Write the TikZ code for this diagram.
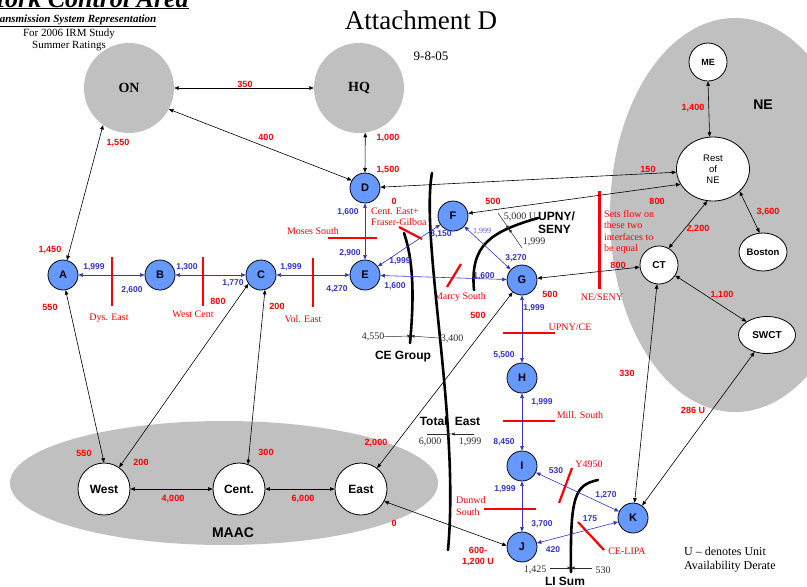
\documentclass[tikz,border=0pt]{standalone}
\usepackage{fontspec}
\setmainfont{Liberation Serif}
\setsansfont{Liberation Sans}
\usetikzlibrary{arrows.meta,shapes.geometric}
\definecolor{nyRed}{RGB}{255,0,0}
\definecolor{nyBlue}{RGB}{51,51,204}
\definecolor{nyBus}{RGB}{102,153,255}
\definecolor{nyGray}{RGB}{192,192,192}
\definecolor{nyInk}{RGB}{45,45,45}
\definecolor{nyPale}{RGB}{90,90,230}
\newcommand\fsz[1]{\fontsize{#1}{#1}\selectfont}

\begin{document}
\begin{tikzpicture}[x=1pt, y=-1pt,
  font=\sffamily,
  area/.style={circle, fill=nyGray, minimum size=90pt, inner sep=0pt, font=\rmfamily\bfseries\fsz{14}},
  bus/.style={circle, draw, line width=0.8pt, fill=nyBus, minimum size=30pt, inner sep=0pt, font=\sffamily\bfseries\fsz{11}},
  pool/.style={ellipse, draw, line width=0.8pt, fill=white, inner sep=0pt, font=\sffamily\bfseries\fsz{9.5}},
  hub/.style={circle, draw, line width=0.8pt, fill=white, minimum size=52pt, inner sep=0pt, font=\sffamily\bfseries\fsz{12}},
  tie/.style={<->, >={Triangle[length=4.5pt,width=3.6pt]}, line width=0.6pt},
  btie/.style={tie, draw=nyBlue},
  rnum/.style={font=\sffamily\bfseries\fsz{9}, text=nyRed, inner sep=0pt},
  bnum/.style={font=\sffamily\bfseries\fsz{8.5}, text=nyBlue, inner sep=0pt},
  iface/.style={draw=nyRed, line width=2.2pt},
  ifname/.style={font=\rmfamily\fsz{10}, text=nyRed, inner sep=0pt},
  seam/.style={line width=2.6pt, line cap=round},
  seamtxt/.style={font=\sffamily\bfseries\fsz{12}, inner sep=0pt},
  flow/.style={font=\rmfamily\fsz{10}, text=nyInk, inner sep=0pt},
  pin/.style={->, >={Triangle[length=3.5pt,width=3pt]}, line width=0.5pt, draw=nyInk}
]
\clip (0,0) rectangle (807,587);

% headings
\node[anchor=base west, inner sep=0pt, font=\rmfamily\bfseries\itshape\fsz{26}] (title) at (-8,7) {\underline{York Control Area}};
\node[anchor=base west, inner sep=0pt, font=\rmfamily\bfseries\itshape\fsz{11}] (subtitle) at (-11,22.5) {\underline{Transmission System Representation}};
\node[anchor=base, inner sep=0pt, font=\rmfamily\fsz{11}] (study) at (69,36.5) {For 2006 IRM Study};
\node[anchor=base, inner sep=0pt, font=\rmfamily\fsz{11}] (ratings) at (69,48) {Summer Ratings};
\node[anchor=base, inner sep=0pt, font=\rmfamily\fsz{27}] (attach) at (421,29) {Attachment D};
\node[anchor=base, inner sep=0pt, font=\rmfamily\fsz{13}] (date) at (431,60) {9-8-05};

% pools
\fill[nyGray] (735,215) ellipse [x radius=125, y radius=197];
\fill[nyGray] (224,483) ellipse [x radius=214, y radius=62];
\node[font=\sffamily\bfseries\fsz{14}] (neName) at (763,105) {NE};
\node[font=\sffamily\bfseries\fsz{14}] (maacName) at (233,533) {MAAC};

% interfaces
\draw[iface] (112,257) -- (112,306);
\node[ifname] (dysEast) at (109,318) {Dys. East};
\draw[iface] (203,257) -- (203,306);
\node[ifname] (westCent) at (193,314) {West Cent};
\draw[iface] (313,258) -- (313,307);
\node[ifname] (volEast) at (303,319) {Vol. East};
\draw[iface] (328,238) -- (377,238);
\node[ifname] (mosesSouth) at (313,231) {Moses South};
\draw[iface] (399,227) -- (422,239);
\node[ifname, anchor=west, align=left, font=\rmfamily\fontsize{10}{11}\selectfont] (centEast) at (371,217) {Cent. East+\\Fraser-Gilboa};
\draw[iface] (447,287) -- (461,264);
\node[ifname] (marcySouth) at (460,297) {Marcy South};
\draw[iface, line width=3pt] (599,191) -- (599,289);
\node[ifname] (neSeny) at (602,297) {NE/SENY};
\node[ifname, anchor=west, align=left, font=\rmfamily\fontsize{10}{11.4}\selectfont] (equalNote) at (604,232) {Sets flow on\\these two\\interfaces to\\be equal};
\draw[iface] (503,333) -- (555,333);
\node[ifname] (upnyCe) at (570,327) {UPNY/CE};
\draw[iface] (503,421) -- (555,421);
\node[ifname] (millSouth) at (580,415) {Mill. South};
\draw[iface] (484,509) -- (536,509);
\node[ifname, anchor=west, align=left, font=\rmfamily\fontsize{10}{12}\selectfont] (dunwdSouth) at (456,506) {Dunwd\\South};
\draw[iface] (559,503) -- (572,468);
\node[ifname] (y4950) at (589,464) {Y4950};
\draw[iface] (578,522) -- (604,550);
\node[ifname] (ceLipa) at (627,551) {CE-LIPA};

% cut sets
\draw[seam] (404,233) .. controls (414,262) and (414,300) .. (410,343);
\draw[seam] (432,173) .. controls (420,240) and (460,420) .. (448,550);
\draw[seam] (474,290) .. controls (470,245) and (490,232) .. (538,218);
\draw[seam] (598,480) .. controls (575,485) and (570,495) .. (571,572);
\node[seamtxt] (ceGroup) at (403,357) {CE Group};
\node[seamtxt] (totalEast) at (450,421) {Total\,\, East};
\node[seamtxt, anchor=west, align=left, font=\sffamily\bfseries\fontsize{12}{13}\selectfont] (upnySeny) at (538,222.5) {UPNY/\\SENY};
\node[seamtxt] (liSum) at (565,581) {LI Sum};

\coordinate (ceX) at (411,336);
\node[flow] (f4550) at (373,337) {4,550};
\node[flow] (f3400) at (452,339) {3,400};
\draw[pin] (f4550) -- (ceX);
\draw[pin] (f3400) -- (ceX);
\coordinate (teL) at (427,434);
\coordinate (teX) at (451,434);
\coordinate (teR) at (474,434);
\node[flow] (f6000) at (430,442) {6,000};
\node[flow] (f1999te) at (470,442) {1,999};
\draw[pin] (teL) -- (teX);
\draw[pin] (teR) -- (teX);
\coordinate (usA) at (498,213);
\coordinate (usX) at (509,229);
\coordinate (usB) at (522,248);
\node[flow] (f5000) at (520,217) {5,000 U};
\node[flow] (f1999us) at (534,242) {1,999};
\draw[pin] (usA) -- (usX);
\draw[pin] (usB) -- (usX);
\coordinate (liL) at (550,568);
\coordinate (liX) at (571,568);
\coordinate (liR) at (592,568);
\node[flow] (f1425) at (535,570) {1,425};
\node[flow] (f530) at (603,570) {530};
\draw[pin] (liL) -- (liX);
\draw[pin] (liR) -- (liX);

% areas and buses
\node[area] (ON) at (129,88) {ON};
\node[area] (HQ) at (359,88) {HQ};
\node[bus] (A) at (63,275) {A};
\node[bus] (B) at (160,275) {B};
\node[bus] (C) at (261,275) {C};
\node[bus] (D) at (365,188) {D};
\node[bus] (E) at (365,275) {E};
\node[bus] (F) at (453,216) {F};
\node[bus] (G) at (522,280) {G};
\node[bus] (H) at (522,378) {H};
\node[bus] (I) at (522,466) {I};
\node[bus] (J) at (522,547) {J};
\node[bus] (K) at (633,518) {K};
\node[hub] (West) at (104,489) {West};
\node[hub] (Cent) at (239,489) {Cent.};
\node[hub] (East) at (361,489) {East};
\node[pool, circle, minimum size=38pt, font=\sffamily\bfseries\fsz{9}] (ME) at (708,62) {ME};
\node[pool, minimum width=73pt, minimum height=64pt, align=center, font=\sffamily\fontsize{9.5}{11}\selectfont] (rest) at (713,169) {Rest\\of\\NE};
\node[pool, circle, minimum size=38pt, font=\sffamily\bfseries\fsz{10}] (CT) at (659,265) {CT};
\node[pool, minimum width=48pt, minimum height=38pt] (boston) at (763,252) {Boston};
\node[pool, minimum width=57pt, minimum height=37pt, font=\sffamily\bfseries\fsz{10}] (swct) at (767,335) {SWCT};

% black ties
\draw[tie] (ON.east) -- (HQ.west);
\draw[tie] (ON.-28) -- (D.150);
\draw[tie] (HQ.-82) -- (D.north);
\draw[tie] (A.75) -- (ON.-125);
\draw[tie] (A.-80) -- (West.north);
\draw[tie] (C.215) -- (West.55);
\draw[tie] (C.-75) -- (Cent.70);
\draw[tie] (West) -- (Cent);
\draw[tie] (Cent) -- (East);
\draw[tie] (East) -- (G);
\draw[tie] (East.-28) -- (J.175);
\draw[tie] (D) -- (rest.185);
\draw[tie] (F.10) -- (rest.205);
\draw[tie] (G) -- (CT);
\draw[tie] (CT) -- (K);
\draw[tie] (swct) -- (K);
\draw[tie] (ME.south) -- (rest.96);
\draw[tie] (rest.-40) -- (boston.100);
\draw[tie] (rest.-100) -- (CT.60);
\draw[tie] (CT) -- (swct);

% blue ties
\draw[btie] (A) -- (B);
\draw[btie] (B) -- (C);
\draw[btie] (C) -- (E);
\draw[btie] (D) -- (E);
\draw[btie] (E) -- (F);
\draw[btie] (E) -- (G);
\draw[btie] (F) -- (G);
\draw[btie] (G) -- (H);
\draw[btie] (H) -- (I);
\draw[btie] (I) -- (J);
\draw[btie] (I) -- (K);
\draw[btie] (J) -- (K);

% red ratings
\node[rnum] (r350) at (245,84) {350};
\node[rnum] (r400) at (266,137) {400};
\node[rnum] (r1550) at (118,143) {1,550};
\node[rnum] (r1000) at (388,138) {1,000};
\node[rnum] (r1500) at (388,170) {1,500};
\node[rnum] (r0d) at (394,201) {0};
\node[rnum] (r1450) at (50,250) {1,450};
\node[rnum] (r550a) at (50,307) {550};
\node[rnum] (r800c) at (218,301) {800};
\node[rnum] (r200c) at (277,306) {200};
\node[rnum] (r550w) at (84,453) {550};
\node[rnum] (r200w) at (141,462) {200};
\node[rnum] (r300) at (266,452) {300};
\node[rnum] (r4000) at (173,499) {4,000};
\node[rnum] (r6000) at (303,499) {6,000};
\node[rnum] (r2000) at (376,443) {2,000};
\node[rnum] (r0e) at (394,523) {0};
\node[rnum, align=center, font=\sffamily\bfseries\fontsize{9}{11.5}\selectfont] (r600) at (478,556.5) {600-\\1,200 U};
\node[rnum] (r500f) at (493,201) {500};
\node[rnum] (r800r) at (657,201) {800};
\node[rnum] (r150) at (648,169) {150};
\node[rnum] (r800ct) at (618,265) {800};
\node[rnum] (r500g) at (550,294) {500};
\node[rnum] (r500e) at (478,315) {500};
\node[rnum] (r330) at (627,373) {330};
\node[rnum] (r286) at (693,410) {286 U};
\node[rnum] (r1400) at (693,108) {1,400};
\node[rnum] (r3600) at (768,212) {3,600};
\node[rnum] (r2200) at (698,229) {2,200};
\node[rnum] (r1100) at (722,295) {1,100};

% blue ratings
\node[bnum] (b1999ab) at (94,267) {1,999};
\node[bnum] (b2600) at (132,290) {2,600};
\node[bnum] (b1300) at (187,267) {1,300};
\node[bnum] (b1770) at (233,283) {1,770};
\node[bnum] (b1999ce) at (291,267) {1,999};
\node[bnum] (b4270) at (337,289) {4,270};
\node[bnum] (b1600de) at (348,212) {1,600};
\node[bnum] (b2900) at (350,253) {2,900};
\node[bnum] (b1999ef) at (400,261) {1,999};
\node[bnum] (b3150) at (441,234) {3,150};
\node[bnum] (b1600e) at (395,286) {1,600};
\node[bnum] (b1600g) at (484,276) {1,600};
\node[font=\rmfamily\fsz{8}, text=nyPale, inner sep=0pt] (b1999fg) at (482,231) {1,999};
\node[bnum] (b3270) at (516,258) {3,270};
\node[bnum] (b1999gh) at (534,308) {1,999};
\node[bnum] (b5500) at (504,355) {5,500};
\node[bnum] (b1999hi) at (542,402) {1,999};
\node[bnum] (b8450) at (504,442) {8,450};
\node[bnum] (b1999ij) at (505,489) {1,999};
\node[bnum] (b3700) at (542,524) {3,700};
\node[bnum] (b530) at (556,471) {530};
\node[bnum] (b1270) at (606,495) {1,270};
\node[bnum] (b175) at (590,519) {175};
\node[bnum] (b420) at (553,550) {420};

\node[anchor=west, align=left, inner sep=0pt, font=\rmfamily\fontsize{12}{14}\selectfont] (uNote) at (684,560) {U -- denotes Unit\\Availability Derate};
\end{tikzpicture}
\end{document}
